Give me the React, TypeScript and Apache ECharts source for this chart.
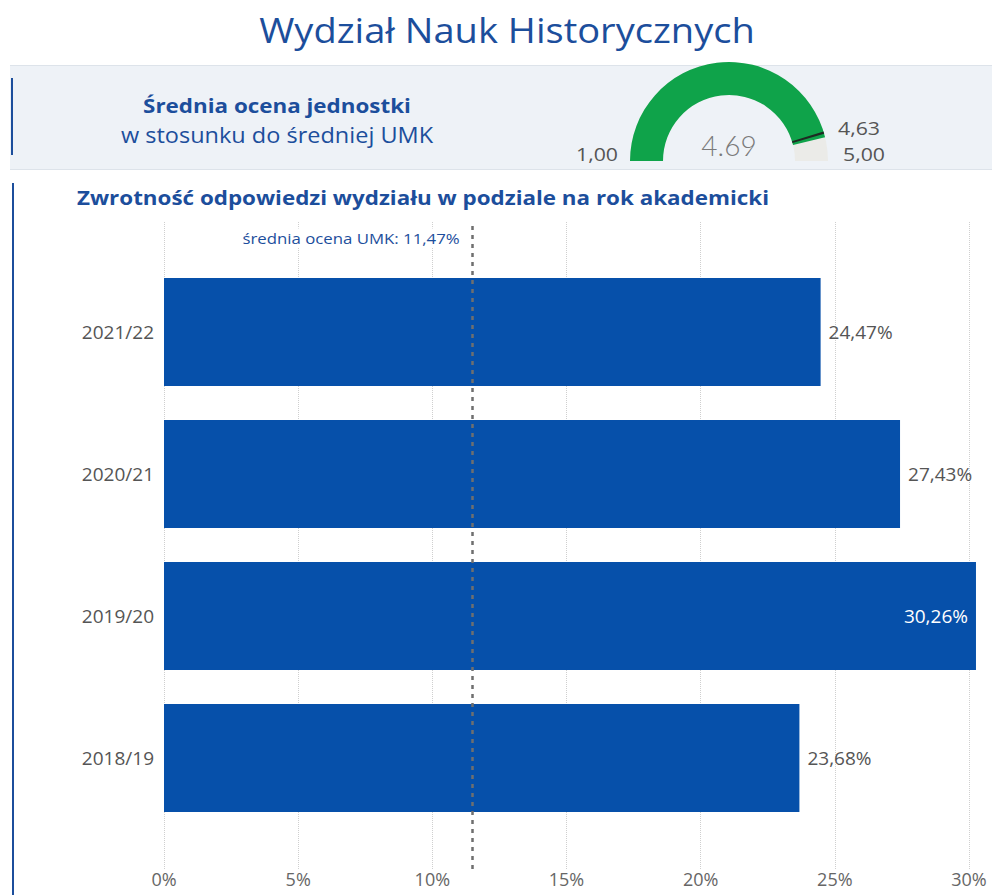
import React, { useEffect, useRef } from "react";
import * as echarts from "echarts";

const pageTitle = "Wydział Nauk Historycznych";
const headerBold = "Średnia ocena jednostki";
const headerRegular = "w stosunku do średniej UMK";
const chartTitle = "Zwrotność odpowiedzi wydziału w podziale na rok akademicki";

const scoreMin = 1;
const scoreMax = 5;
const unitScore = 4.69;
const umkScore = 4.63;

const categories = ["2021/22", "2020/21", "2019/20", "2018/19"];
const responseRates = [24.47, 27.43, 30.26, 23.68];
const umkMeanRate = 11.47;
const xTickStep = 5;
const xTickMax = 30;

const FONT = "'Open Sans', 'Noto Sans', sans-serif";
const BLUE = "#1c4e9c";
const BAR = "#0650aa";
const GREEN = "#0fa34a";
const SX = 1.12;

const pl = (v: number) => v.toFixed(2).replace(".", ",");

export default function App() {
  const ref = useRef<HTMLDivElement>(null);
  useEffect(() => {
    if (!ref.current) return;
    const chart = echarts.init(ref.current, undefined, { renderer: "svg" });
    const markerPos = (umkScore - scoreMin) / (scoreMax - scoreMin);
    const txt = (x: number, y: number, text: string, font: string, fill: string, align: string, extra: any = {}) => ({
      type: "text", x, y, z: 5, scaleX: SX,
      style: { text, fill, font, align, verticalAlign: "middle", ...extra },
    });
    chart.setOption({
      animation: false,
      textStyle: { fontFamily: FONT },
      graphic: [
        txt(507, 30, pageTitle, `400 34px ${FONT}`, BLUE, "center"),
        { type: "rect", z: 0, shape: { x: 10, y: 65, width: 982, height: 105 }, style: { fill: "#eef2f7" } },
        { type: "rect", z: 1, shape: { x: 10, y: 65, width: 982, height: 1 }, style: { fill: "#dde3ea" } },
        { type: "rect", z: 1, shape: { x: 10, y: 169, width: 982, height: 1 }, style: { fill: "#dde3ea" } },
        { type: "rect", z: 1, shape: { x: 11, y: 78, width: 2, height: 77 }, style: { fill: BLUE } },
        { type: "rect", z: 1, shape: { x: 12, y: 183, width: 2, height: 712 }, style: { fill: BLUE } },
        txt(277, 105, headerBold, `700 20px ${FONT}`, BLUE, "center"),
        txt(277, 135, headerRegular, `400 21px ${FONT}`, BLUE, "center"),
        txt(618, 153, pl(scoreMin), `400 19px ${FONT}`, "#555", "right"),
        txt(838, 127, pl(umkScore), `400 19px ${FONT}`, "#555", "left"),
        txt(843, 153, pl(scoreMax), `400 19px ${FONT}`, "#555", "left"),
        txt(77, 197, chartTitle, `700 20px ${FONT}`, BLUE, "left", { }),
        txt(463, 238, `średnia ocena UMK: ${pl(umkMeanRate)}%`, `400 15px ${FONT}`, BLUE, "right", {
          backgroundColor: "#fff", padding: [2, 3],
        }),
      ],
      grid: [
        { left: 164, right: 23, top: 222, bottom: 26 },
        { left: 164, right: 23, top: 261, bottom: 66 },
      ],
      xAxis: [
        {
          type: "value", gridIndex: 0, min: 0, max: xTickMax, interval: xTickStep,
          axisLine: { show: false }, axisTick: { show: false },
          splitLine: { show: true, lineStyle: { type: "dotted", color: "#cfcfcf", width: 1 } },
          axisLabel: { formatter: (v: number) => `${v}%`, color: "#666", fontSize: 18, margin: 1, fontFamily: FONT },
        },
        {
          type: "value", gridIndex: 1, min: 0, max: xTickMax, interval: xTickStep, show: false,
        },
      ],
      yAxis: [
        { type: "value", gridIndex: 0, min: 0, max: 1, show: false },
        {
          type: "category", gridIndex: 1, data: categories, inverse: true,
          axisLine: { show: false }, axisTick: { show: false },
          axisLabel: { color: "#555", fontSize: 19, margin: 10, fontFamily: FONT },
        },
      ],
      series: [
        {
          type: "gauge", center: [729, 161], radius: 99, startAngle: 180, endAngle: 0,
          min: scoreMin, max: scoreMax, z: 3,
          axisLine: { lineStyle: { width: 33, color: [[1, "#ebebe8"]] } },
          progress: { show: true, width: 33, itemStyle: { color: GREEN } },
          pointer: { show: false }, axisTick: { show: false }, splitLine: { show: false }, axisLabel: { show: false },
          anchor: { show: false }, title: { show: false },
          detail: {
            valueAnimation: false, offsetCenter: [0, -16], fontSize: 28, fontWeight: 300, color: "#7a7a7a",
            fontFamily: "Lato, 'Open Sans', sans-serif", formatter: (v: number) => v.toFixed(2),
          },
          data: [{ value: unitScore }],
        },
        {
          type: "gauge", center: [729, 161], radius: 99, startAngle: 180, endAngle: 0,
          min: scoreMin, max: scoreMax, z: 4,
          axisLine: {
            lineStyle: {
              width: 33,
              color: [[markerPos - 0.004, "rgba(0,0,0,0)"], [markerPos + 0.004, "#1e2a22"], [1, "rgba(0,0,0,0)"]],
            },
          },
          progress: { show: false },
          pointer: { show: false }, axisTick: { show: false }, splitLine: { show: false }, axisLabel: { show: false },
          anchor: { show: false }, title: { show: false }, detail: { show: false },
          data: [],
        },
        {
          type: "line", xAxisIndex: 0, yAxisIndex: 0, data: [[umkMeanRate, 0.5]], symbol: "none", silent: true,
          lineStyle: { opacity: 0 },
          markLine: {
            silent: true, symbol: "none", label: { show: false },
            lineStyle: { type: [4, 5], color: "#6f6f6f", width: 2.5 },
            data: [{ xAxis: umkMeanRate }],
          },
        },
        {
          type: "bar", xAxisIndex: 1, yAxisIndex: 1, barCategoryGap: "24%", clip: false, z: 3,
          itemStyle: { color: BAR },
          data: responseRates.map((v) => ({
            value: v,
            label: v > xTickMax
              ? { position: "insideRight", color: "#fff", distance: 8 }
              : { position: "right", color: "#555", distance: 8 },
          })),
          label: {
            show: true, fontSize: 19, fontFamily: FONT,
            formatter: (p: any) => `${pl(p.value)}%`,
          },
        },
      ],
    });
    return () => chart.dispose();
  }, []);
  return <div ref={ref} style={{ position: "absolute", left: 0, top: 0, width: 992, height: 895, background: "#fff" }} />;
}
